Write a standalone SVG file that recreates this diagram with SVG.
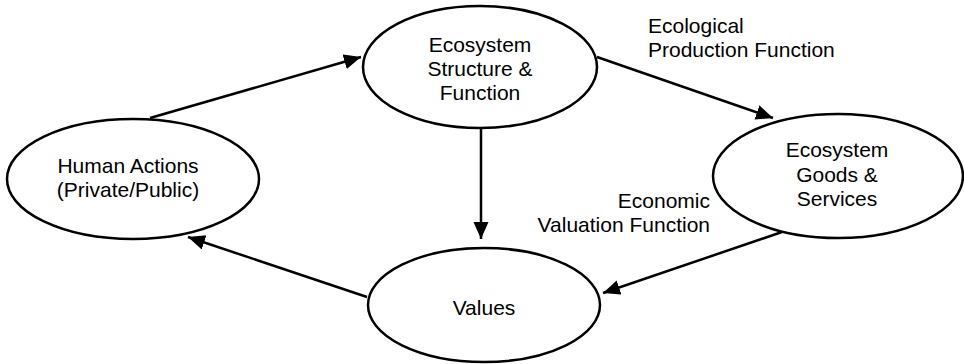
<svg xmlns="http://www.w3.org/2000/svg" width="964" height="364" viewBox="0 0 964 364">
<style>
.node ellipse{fill:#fff;stroke:#000;stroke-width:2.5}
text{font-family:"Liberation Sans",Arial,sans-serif;font-size:21px;fill:#000}
.c{text-anchor:middle}
.e{text-anchor:end}
#connectors line{stroke:#000;stroke-width:2.5;fill:none}
</style>
<defs>
<marker id="ah" markerUnits="userSpaceOnUse" markerWidth="18" markerHeight="16" refX="17" refY="7.5" orient="auto">
<path d="M0,0 L17,7.5 L0,15 z" fill="#000"/>
</marker>
</defs>
<rect width="964" height="364" fill="#fff"/>
<g id="connectors">
<line x1="150" y1="118" x2="361" y2="57" marker-end="url(#ah)"/>
<line x1="597" y1="57" x2="773" y2="118" marker-end="url(#ah)"/>
<line x1="481" y1="128" x2="481" y2="239" marker-end="url(#ah)"/>
<line x1="782" y1="232" x2="603" y2="293" marker-end="url(#ah)"/>
<line x1="367" y1="297" x2="188" y2="237" marker-end="url(#ah)"/>
</g>
<g id="human" class="node">
<ellipse cx="133" cy="179" rx="126" ry="60"/>
<text class="c" x="128" y="173">Human Actions</text>
<text class="c" x="128" y="197">(Private/Public)</text>
</g>
<g id="structure" class="node">
<ellipse cx="480" cy="67" rx="117" ry="61"/>
<text class="c" x="480" y="52">Ecosystem</text>
<text class="c" x="480" y="76">Structure &amp;</text>
<text class="c" x="480" y="100">Function</text>
</g>
<g id="goods" class="node">
<ellipse cx="838" cy="176" rx="125" ry="62"/>
<text class="c" x="837" y="157">Ecosystem</text>
<text class="c" x="837" y="182">Goods &amp;</text>
<text class="c" x="837" y="206">Services</text>
</g>
<g id="values" class="node">
<ellipse cx="484" cy="305" rx="116" ry="57"/>
<text class="c" x="484" y="315">Values</text>
</g>
<g id="labels">
<text x="648" y="33">Ecological</text>
<text x="648" y="57">Production Function</text>
<text class="e" x="710" y="208">Economic</text>
<text class="e" x="710" y="232">Valuation Function</text>
</g>
</svg>
